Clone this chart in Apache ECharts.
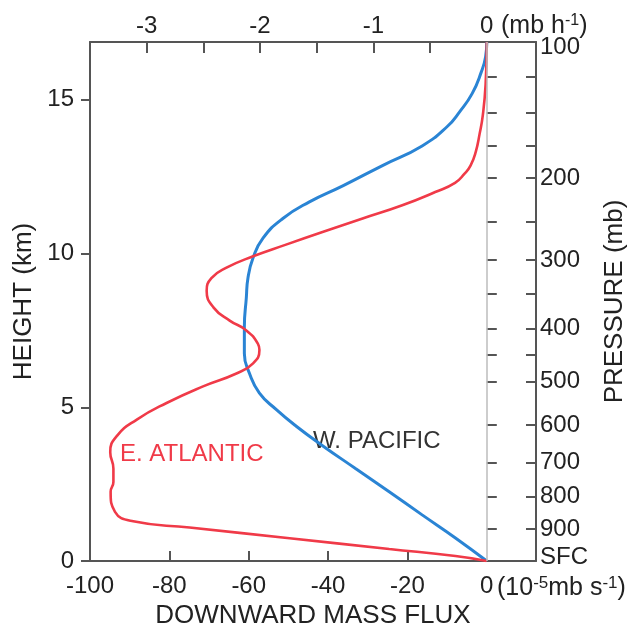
<!DOCTYPE html>
<html><head><meta charset="utf-8">
<script src="https://cdn.jsdelivr.net/npm/echarts@6/dist/echarts.min.js"></script>
<style>html,body{margin:0;padding:0;background:#fff}#c{width:636px;height:634px}</style>
</head><body><div id="c"></div>
<script>
// W. Pacific profile: height (km) and downward mass flux (10^-5 mb s^-1)
const pacificHeight = [0, 0.75, 1.5, 2.25, 3.0, 3.75, 4.39, 4.93, 5.46, 6.1, 6.75, 7.6, 8.57, 9.2, 9.86, 10.5, 11.14, 11.68, 12.2, 12.86, 13.5, 14.14, 14.6, 15.2, 15.9, 16.4, 16.88];
const pacificFlux   = [0, -7.9, -16.3, -24.6, -33.0, -41.4, -48.1, -53.1, -57.3, -59.8, -61.1, -61.1, -60.6, -60.2, -58.9, -56.4, -51.4, -44.7, -36.3, -26.3, -16.3, -9.9, -6.9, -3.7, -1.4, -0.3, 0];
// E. Atlantic profile
const atlanticHeight = [0, 0.16, 0.39, 0.74, 1.09, 1.29, 1.6, 2.25, 2.57, 3.0, 3.54, 4.07, 4.6, 5.14, 5.68, 6.1, 6.43, 6.86, 7.07, 7.5, 7.82, 8.25, 8.79, 9.2, 9.54, 9.91, 10.29, 10.7, 11.14, 11.57, 12.0, 12.3, 12.6, 12.86, 13.3, 13.9, 14.5, 15.5, 16.88];
const atlanticFlux   = [0, -7.9, -24.6, -49.7, -74.9, -89.1, -93.7, -94.8, -94.1, -94.1, -94.9, -93.2, -88.2, -80.7, -71.5, -63.1, -58.9, -57.3, -57.7, -60.6, -64.8, -68.9, -70.6, -69.4, -65.6, -58.9, -50.6, -41.4, -31.3, -21.3, -13.0, -8.0, -5.6, -4.1, -2.8, -1.8, -1.0, -0.3, 0];

// axis ticks and labels
const fluxTickLabels = [-100, -80, -60, -40, -20, 0];
const fluxInnerTicks = [-80, -60, -40, -20];
const rateTickLabels = [-3, -2, -1, 0];
const rateInnerTicks = [-3, -2.5, -2, -1.5, -1, -0.5];
const heightTickLabels = [0, 5, 10, 15];
const pressureLabels = ['100', '200', '300', '400', '500', '600', '700', '800', '900', 'SFC'];
const pressureLabelHeights = [16.88, 12.46, 9.79, 7.55, 5.84, 4.42, 3.21, 2.09, 1.04, 0];
const pressureTickHeights = [15.74, 14.58, 13.49, 12.46, 11.04, 9.79, 8.70, 7.55, 6.70, 5.84, 4.42, 3.21, 2.09, 1.04];

const FONT = '"Liberation Sans", Arial, Helvetica, sans-serif';
const TXT = '#222';
const AX = '#555';
const LBL = 24;
const NAME = 26;
const axisLineStyle = { color: AX, width: 2 };

const chart = echarts.init(document.getElementById('c'), null, { renderer: 'canvas' });
chart.setOption({
  animation: false,
  backgroundColor: '#fff',
  textStyle: { fontFamily: FONT },
  grid: { left: 90, right: 98, top: 42, bottom: 67 },
  xAxis: [
    {
      type: 'value', position: 'bottom', min: -100, max: 12.4,
      name: 'DOWNWARD MASS FLUX', nameLocation: 'middle', nameGap: 42,
      nameTextStyle: { fontSize: NAME, color: TXT, fontFamily: FONT },
      axisLine: { show: true, onZero: false, lineStyle: axisLineStyle },
      axisTick: { show: true, inside: true, length: 10, customValues: fluxInnerTicks, lineStyle: axisLineStyle },
      axisLabel: { customValues: fluxTickLabels, margin: 13, fontSize: LBL, color: TXT, fontFamily: FONT },
      splitLine: { show: false }
    },
    {
      type: 'value', position: 'top', min: -3.5, max: 0.4347,
      axisLine: { show: true, onZero: false, lineStyle: axisLineStyle },
      axisTick: { show: true, inside: true, length: 11, customValues: rateInnerTicks, lineStyle: axisLineStyle },
      axisLabel: { customValues: rateTickLabels, margin: 4, fontSize: LBL, color: TXT, fontFamily: FONT },
      splitLine: { show: false }
    }
  ],
  yAxis: [
    {
      type: 'value', position: 'left', min: 0, max: 16.88,
      name: 'HEIGHT (km)', nameLocation: 'middle', nameRotate: 90, nameGap: 46,
      nameTextStyle: { fontSize: NAME, color: TXT, fontFamily: FONT },
      axisLine: { show: true, onZero: false, lineStyle: axisLineStyle },
      axisTick: { show: true, inside: false, length: 9, customValues: heightTickLabels, lineStyle: axisLineStyle },
      axisLabel: { customValues: heightTickLabels, margin: 16, fontSize: LBL, color: TXT, fontFamily: FONT },
      splitLine: { show: false }
    },
    {
      type: 'value', position: 'left', min: 0, max: 16.88,
      axisLine: { show: false },
      axisTick: { show: true, inside: true, length: 10, customValues: pressureTickHeights, lineStyle: axisLineStyle },
      axisLabel: { show: false },
      splitLine: { show: false }
    },
    {
      type: 'value', position: 'right', min: 0, max: 16.88,
      name: 'PRESSURE (mb)', nameLocation: 'middle', nameRotate: 90, nameGap: 66,
      nameTextStyle: { fontSize: NAME, color: TXT, fontFamily: FONT },
      axisLine: { show: true, onZero: false, lineStyle: axisLineStyle },
      axisTick: { show: true, inside: true, length: 10, customValues: pressureTickHeights, lineStyle: axisLineStyle },
      axisLabel: {
        customValues: pressureLabelHeights, margin: 4, fontSize: LBL, color: TXT, fontFamily: FONT,
        formatter: function (v) {
          for (let i = 0; i < pressureLabelHeights.length; i++) {
            if (Math.abs(pressureLabelHeights[i] - v) < 1e-6) {
              if (i === 0) return '{top|' + pressureLabels[i] + '}';
              if (i === pressureLabels.length - 1) return '{bot|' + pressureLabels[i] + '}';
              return pressureLabels[i];
            }
          }
          return '';
        },
        rich: {
          top: { fontSize: LBL, color: TXT, fontFamily: FONT, padding: [10, 0, 0, 0] },
          bot: { fontSize: LBL, color: TXT, fontFamily: FONT, padding: [0, 0, 8, 0] }
        }
      },
      splitLine: { show: false }
    }
  ],
  series: [
    {
      type: 'line', xAxisIndex: 0, yAxisIndex: 0, data: [], z: 1, silent: true,
      markLine: {
        silent: true, symbol: ['none', 'none'], label: { show: false },
        lineStyle: { color: '#bdbdbd', width: 1.5, type: 'solid' },
        data: [{ xAxis: 0 }]
      }
    },
    {
      name: 'W. PACIFIC', type: 'line', xAxisIndex: 0, yAxisIndex: 0, z: 3,
      data: pacificHeight.map((h, i) => [pacificFlux[i], h]),
      smooth: 0.5, showSymbol: false, symbol: 'none',
      lineStyle: { color: '#2a84d4', width: 3 }
    },
    {
      name: 'E. ATLANTIC', type: 'line', xAxisIndex: 0, yAxisIndex: 0, z: 4,
      data: atlanticHeight.map((h, i) => [atlanticFlux[i], h]),
      smooth: 0.5, showSymbol: false, symbol: 'none',
      lineStyle: { color: '#f03a48', width: 2.6 }
    }
  ],
  graphic: [
    {
      type: 'text', x: 501, y: 26, silent: true,
      style: {
        text: '{a|(mb h}{s|-1}{a|)}', verticalAlign: 'middle', align: 'left',
        rich: {
          a: { fontSize: 25, fontFamily: FONT, fill: TXT, lineHeight: 26 },
          s: { fontSize: 16, fontFamily: FONT, fill: TXT, lineHeight: 16, verticalAlign: 'top' }
        }
      }
    },
    {
      type: 'text', x: 497, y: 588, silent: true,
      style: {
        text: '{a|(10}{s|-5}{a|mb s}{s|-1}{a|)}', verticalAlign: 'middle', align: 'left',
        rich: {
          a: { fontSize: 25, fontFamily: FONT, fill: TXT, lineHeight: 26 },
          s: { fontSize: 17, fontFamily: FONT, fill: TXT, lineHeight: 17, verticalAlign: 'top' }
        }
      }
    },
    {
      type: 'text', x: 120, y: 454, silent: true,
      style: { text: 'E. ATLANTIC', fill: '#f03a48', font: '24px ' + FONT, verticalAlign: 'middle', align: 'left' }
    },
    {
      type: 'text', x: 313, y: 441, silent: true,
      style: { text: 'W. PACIFIC', fill: '#333', font: '24px ' + FONT, verticalAlign: 'middle', align: 'left' }
    }
  ]
});
</script>
</body></html>
